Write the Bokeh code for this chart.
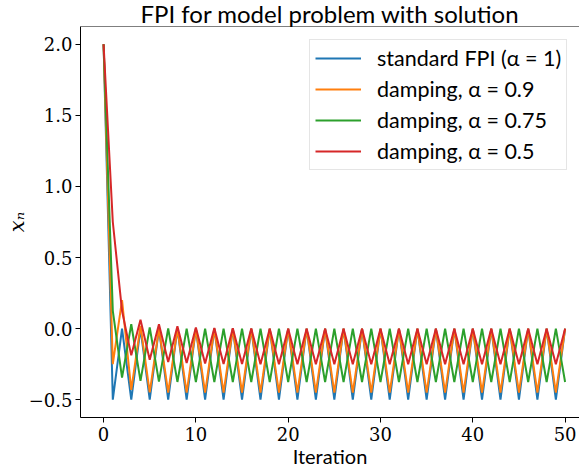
from bokeh.plotting import figure
from bokeh.models import (Range1d, FixedTicker, CustomJSTickFormatter, Legend, LegendItem, Span)
from bokeh.embed import file_html
from bokeh.resources import INLINE

iterations = list(range(51))

fpi_standard = [2.0, -0.5, 0.0, -0.5, 0.0, -0.5, 0.0, -0.5, 0.0, -0.5,
                0.0, -0.5, 0.0, -0.5, 0.0, -0.5, 0.0, -0.5, 0.0, -0.5,
                0.0, -0.5, 0.0, -0.5, 0.0, -0.5, 0.0, -0.5, 0.0, -0.5,
                0.0, -0.5, 0.0, -0.5, 0.0, -0.5, 0.0, -0.5, 0.0, -0.5,
                0.0, -0.5, 0.0, -0.5, 0.0, -0.5, 0.0, -0.5, 0.0, -0.5,
                0.0]

damp_090 = [2.0, -0.25, 0.2, -0.43, 0.02, -0.448, 0.002, -0.45, 0.0, -0.45,
            0.0, -0.45, 0.0, -0.45, 0.0, -0.45, 0.0, -0.45, 0.0, -0.45,
            0.0, -0.45, 0.0, -0.45, 0.0, -0.45, 0.0, -0.45, 0.0, -0.45,
            0.0, -0.45, 0.0, -0.45, 0.0, -0.45, 0.0, -0.45, 0.0, -0.45,
            0.0, -0.45, 0.0, -0.45, 0.0, -0.45, 0.0, -0.45, 0.0, -0.45,
            0.0]

damp_075 = [2.0, 0.125, -0.344, 0.031, -0.367, 0.008, -0.373, 0.002, -0.375, 0.0,
            -0.375, 0.0, -0.375, 0.0, -0.375, 0.0, -0.375, 0.0, -0.375, 0.0,
            -0.375, 0.0, -0.375, 0.0, -0.375, 0.0, -0.375, 0.0, -0.375, 0.0,
            -0.375, 0.0, -0.375, 0.0, -0.375, 0.0, -0.375, 0.0, -0.375, 0.0,
            -0.375, 0.0, -0.375, 0.0, -0.375, 0.0, -0.375, 0.0, -0.375, 0.0,
            -0.375]

damp_050 = [2.0, 0.75, 0.125, -0.188, 0.063, -0.219, 0.031, -0.234, 0.016, -0.242,
            0.008, -0.246, 0.004, -0.248, 0.002, -0.249, 0.001, -0.25, 0.0, -0.25,
            0.0, -0.25, 0.0, -0.25, 0.0, -0.25, 0.0, -0.25, 0.0, -0.25,
            0.0, -0.25, 0.0, -0.25, 0.0, -0.25, 0.0, -0.25, 0.0, -0.25,
            0.0, -0.25, 0.0, -0.25, 0.0, -0.25, 0.0, -0.25, 0.0, -0.25,
            0.0]

series_labels = ["standard FPI (α = 1)", "damping, α = 0.9",
                 "damping, α = 0.75", "damping, α = 0.5"]
series_colors = ["#1f77b4", "#ff7f0e", "#2ca02c", "#d62728"]
x_ticks = [0, 10, 20, 30, 40, 50]
y_ticks = [-0.5, 0.0, 0.5, 1.0, 1.5, 2.0]

SANS = "Lato"
SERIF = "DejaVu Serif"

p = figure(width=579, height=470, output_backend="svg", toolbar_location=None,
           x_range=Range1d(-2.5, 51.56), y_range=Range1d(-0.625, 2.125),
           min_border_left=80, min_border_right=0, min_border_bottom=52,
           min_border_top=0)

p.title.text = "FPI for model problem with solution"
p.title.align = "center"
p.title.vertical_align = "middle"
p.title.text_font = SANS
p.title.text_font_size = "24px"
p.title.text_font_style = "normal"
p.title.text_color = "black"
p.title.standoff = -5
p.title.offset = 0

p.grid.visible = False
p.outline_line_color = None
p.background_fill_color = "white"
p.border_fill_color = "white"

for ax in (p.xaxis[0], p.yaxis[0]):
    ax.axis_line_color = "black"
    ax.axis_line_width = 1
    ax.major_tick_line_color = "black"
    ax.major_tick_in = 0
    ax.major_tick_out = 5
    ax.minor_tick_line_color = None
    ax.major_label_text_font = SERIF
    ax.major_label_text_font_size = "18px"
    ax.major_label_text_color = "black"
    ax.axis_label_text_color = "black"
    ax.axis_label_text_font_style = "normal"

p.xaxis[0].ticker = FixedTicker(ticks=x_ticks)
p.yaxis[0].ticker = FixedTicker(ticks=y_ticks)
p.xaxis[0].formatter = CustomJSTickFormatter(
    code="return (tick < 0 ? '\u2212' : '') + Math.abs(tick).toFixed(0);")
p.yaxis[0].formatter = CustomJSTickFormatter(
    code="return (tick < 0 ? '\u2212' : '') + Math.abs(tick).toFixed(1);")
p.xaxis[0].major_label_standoff = 4
p.yaxis[0].major_label_standoff = 3

p.xaxis[0].axis_label = "Iteration"
p.xaxis[0].axis_label_text_font = SANS
p.xaxis[0].axis_label_text_font_size = "20px"
p.xaxis[0].axis_label_standoff = 0

p.yaxis[0].axis_label = "xₙ"
p.yaxis[0].axis_label_text_font = SERIF
p.yaxis[0].axis_label_text_font_style = "italic"
p.yaxis[0].axis_label_text_font_size = "21px"
p.yaxis[0].axis_label_standoff = -3

top_spine = Span(location=2.125, dimension="width", line_color="black", line_width=1)
p.add_layout(top_spine)

items = []
for ys, lab, col in zip([fpi_standard, damp_090, damp_075, damp_050],
                        series_labels, series_colors):
    r = p.line(iterations, ys, line_color=col, line_width=2)
    items.append(LegendItem(label=lab, renderers=[r]))

legend = Legend(items=items, location=(229, 247))
legend.label_text_font = SANS
legend.label_text_font_size = "21.5px"
legend.label_text_color = "black"
legend.glyph_width = 46
legend.glyph_height = 20
legend.label_standoff = 16
legend.label_height = 25
legend.spacing = 5
legend.padding = 5
legend.margin = 0
legend.border_line_color = "#cccccc"
legend.border_line_width = 1
legend.background_fill_color = "white"
legend.background_fill_alpha = 0.8
p.add_layout(legend)

open("out.html", "w").write(file_html(p, INLINE))
